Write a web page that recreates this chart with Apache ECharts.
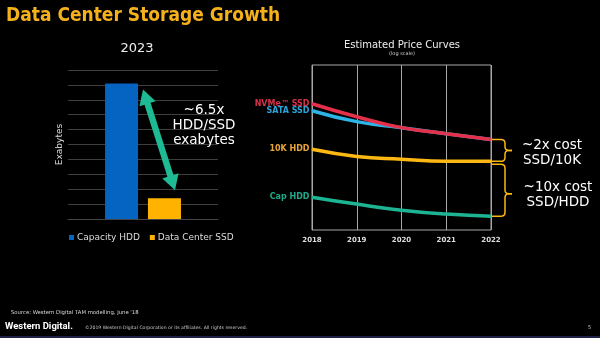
<!DOCTYPE html>
<html>
<head>
<meta charset="utf-8">
<script src="https://cdn.jsdelivr.net/npm/echarts@6/dist/echarts.min.js"></script>
<style>
  html, body { margin: 0; padding: 0; background: #000; }
  #main { width: 600px; height: 338px; }
</style>
</head>
<body>
<div id="main"></div>
<script>
// Exabytes shipped, 2023
const barYear = ['2023'];
const capacityHdd = [9.1];
const dataCenterSsd = [1.4];

// Estimated price curves ($/GB, log scale)
const years = ['2018', '2019', '2020', '2021', '2022'];
const nvmeSsd = [0.339, 0.236, 0.174, 0.147, 0.125];
const sataSsd = [0.279, 0.206, 0.174, 0.147, 0.125];
const hdd10k = [0.095, 0.078, 0.072, 0.068, 0.068];
const capHdd = [0.025, 0.0206, 0.0174, 0.0156, 0.0147];

const FONT = 'DejaVu Sans';
const chart = echarts.init(document.getElementById('main'), null, { renderer: 'canvas' });

function startLabel(p) { return p.dataIndex === 0 ? p.seriesName : ''; }

function priceSeries(name, data, color, labelColor) {
  return {
    type: 'line', name: name, xAxisIndex: 1, yAxisIndex: 1, data: data,
    smooth: true, symbol: 'circle', symbolSize: 1,
    itemStyle: { color: color }, lineStyle: { color: color, width: 3.5 },
    label: {
      show: true, position: 'left', distance: 2, formatter: startLabel,
      color: labelColor, fontSize: 8, fontWeight: 'bold', fontFamily: FONT
    },
    emphasis: { disabled: true }
  };
}

chart.setOption({
  backgroundColor: '#000',
  animation: false,
  legend: {
    data: ['Capacity HDD', 'Data Center SSD'],
    left: 64, top: 228, icon: 'rect', itemWidth: 5, itemHeight: 5, itemGap: 10,
    textStyle: { color: '#ddd', fontSize: 9, fontFamily: FONT, padding: [0, 0, 0, -2] }
  },
  grid: [
    { left: 68, right: 382, top: 70, bottom: 119 },
    { left: 312, right: 109, top: 65, bottom: 108, show: true, borderColor: '#a8a8a8', borderWidth: 1 }
  ],
  xAxis: [
    {
      gridIndex: 0, type: 'category', data: barYear,
      axisLine: { lineStyle: { color: '#444' } }, axisTick: { show: false }, axisLabel: { show: false }
    },
    {
      gridIndex: 1, type: 'category', data: years, boundaryGap: false,
      axisLine: { show: false }, axisTick: { show: false },
      splitLine: { show: true, lineStyle: { color: '#a8a8a8', width: 1 } },
      axisLabel: { color: '#ddd', fontSize: 7, fontWeight: 'bold', fontFamily: FONT, margin: 7 }
    }
  ],
  yAxis: [
    {
      gridIndex: 0, type: 'value', min: 0, max: 10, interval: 1,
      axisLine: { show: false }, axisTick: { show: false }, axisLabel: { show: false },
      splitLine: { lineStyle: { color: '#3e3e3e' } },
      name: 'Exabytes', nameLocation: 'middle', nameGap: 4,
      nameTextStyle: { color: '#ddd', fontSize: 9, fontFamily: FONT }
    },
    {
      gridIndex: 1, type: 'log', logBase: 10, min: 0.01, max: 1,
      axisLine: { show: false }, axisTick: { show: false }, axisLabel: { show: false },
      splitLine: { show: false }
    }
  ],
  series: [
    {
      type: 'bar', name: 'Capacity HDD', xAxisIndex: 0, yAxisIndex: 0, data: capacityHdd,
      barWidth: 33, barGap: '30%', itemStyle: { color: '#0563C1' }
    },
    {
      type: 'bar', name: 'Data Center SSD', xAxisIndex: 0, yAxisIndex: 0, data: dataCenterSsd,
      barWidth: 33, itemStyle: { color: '#FFB300' }
    },
    priceSeries('SATA SSD', sataSsd, '#2DB4E6', '#2BA3D6'),
    priceSeries('NVMe™ SSD', nvmeSsd, '#E5304C', '#D8324A'),
    priceSeries('10K HDD', hdd10k, '#FDB813', '#E6A43A'),
    priceSeries('Cap HDD', capHdd, '#1DB493', '#1FA98A')
  ]
});

// Double-headed arrow between two points, as a polygon
function doubleArrow(a, b, headLen, headHalf, shaftHalf) {
  const dx = b[0] - a[0], dy = b[1] - a[1];
  const len = Math.hypot(dx, dy);
  const d = [dx / len, dy / len], n = [-d[1], d[0]];
  const pt = (base, along, side) => [base[0] + d[0] * along + n[0] * side, base[1] + d[1] * along + n[1] * side];
  return [
    a, pt(a, headLen, headHalf), pt(a, headLen, shaftHalf),
    pt(b, -headLen, shaftHalf), pt(b, -headLen, headHalf), b,
    pt(b, -headLen, -headHalf), pt(b, -headLen, -shaftHalf),
    pt(a, headLen, -shaftHalf), pt(a, headLen, -headHalf)
  ];
}

// Quadratic curve sampled into points
function quad(p0, c, p1, steps) {
  const out = [];
  for (let i = 1; i <= steps; i++) {
    const t = i / steps, u = 1 - t;
    out.push([u * u * p0[0] + 2 * u * t * c[0] + t * t * p1[0], u * u * p0[1] + 2 * u * t * c[1] + t * t * p1[1]]);
  }
  return out;
}

// Half of a curly bracket: from a line end at yEnd, along the spine to the tip at yMid
function braceHalf(xStart, xb, yEnd, yMid, tipLen) {
  const r = 4, s = yMid > yEnd ? 1 : -1;
  let pts = [[xStart, yEnd], [xb - r, yEnd]];
  pts = pts.concat(quad([xb - r, yEnd], [xb, yEnd], [xb, yEnd + s * r], 5));
  pts.push([xb, yMid - s * r]);
  pts = pts.concat(quad([xb, yMid - s * r], [xb, yMid], [xb + r, yMid], 5));
  pts.push([xb + tipLen, yMid]);
  return pts;
}

function bracePieces(xStart, xb, yTop, yBot, yMid) {
  const style = { fill: null, stroke: '#FDB813', lineWidth: 1.5 };
  return [
    { type: 'polyline', silent: true, shape: { points: braceHalf(xStart, xb, yTop, yMid, 7) }, style: style },
    { type: 'polyline', silent: true, shape: { points: braceHalf(xStart, xb, yBot, yMid, 7) }, style: style }
  ];
}

const hddTop = chart.convertToPixel({ gridIndex: 0 }, [barYear[0], capacityHdd[0]]);
const ssdTop = chart.convertToPixel({ gridIndex: 0 }, [barYear[0], dataCenterSsd[0]]);
const last = years.length - 1;
const ssdEnd = chart.convertToPixel({ gridIndex: 1 }, [years[last], nvmeSsd[last]]);
const k10End = chart.convertToPixel({ gridIndex: 1 }, [years[last], hdd10k[last]]);
const capEnd = chart.convertToPixel({ gridIndex: 1 }, [years[last], capHdd[last]]);

const arrowA = [hddTop[0], hddTop[1] + 6];
const arrowB = [ssdTop[0] + 32, ssdTop[1] - 8];
const xb = ssdEnd[0] + 14;

function txt(x, y, text, font, fill, align) {
  return { type: 'text', x: x, y: y, silent: true,
    style: { text: text, font: font, fill: fill, align: align || 'left', verticalAlign: 'middle' } };
}

const graphics = [
  txt(6, 16, 'Data Center Storage Growth', 'bold 19px "DejaVu Sans Condensed"', '#F5B11C'),
  txt(137, 49, '2023', '13px ' + FONT, '#eee', 'center'),
  txt(402, 45, 'Estimated Price Curves', '10px ' + FONT, '#eee', 'center'),
  txt(402, 54, '(log scale)', '5px ' + FONT, '#ccc', 'center'),
  {
    type: 'polygon', silent: true,
    shape: { points: doubleArrow(arrowA, arrowB, 15, 8.5, 3.2) },
    style: { fill: '#1DBA94' }
  },
  txt(204, 110, '~6.5x', '13.5px ' + FONT, '#fff', 'center'),
  txt(204, 125, 'HDD/SSD', '13.5px ' + FONT, '#fff', 'center'),
  txt(204, 140, 'exabytes', '13.5px ' + FONT, '#fff', 'center')
]
  .concat(bracePieces(ssdEnd[0], xb, ssdEnd[1], k10End[1], (ssdEnd[1] + k10End[1]) / 2))
  .concat(bracePieces(k10End[0], xb, k10End[1] + 3, capEnd[1], (k10End[1] + capEnd[1]) / 2 + 5))
  .concat([
    txt(552, 145, '~2x cost', '13.5px ' + FONT, '#fff', 'center'),
    txt(552, 160, 'SSD/10K', '13.5px ' + FONT, '#fff', 'center'),
    txt(558, 187, '~10x cost', '13.5px ' + FONT, '#fff', 'center'),
    txt(558, 202, 'SSD/HDD', '13.5px ' + FONT, '#fff', 'center'),
    txt(11, 313, "Source: Western Digital TAM modelling, June '18", '5.3px ' + FONT, '#ddd'),
    txt(5, 327, 'Western Digital.', 'bold 9.5px Roboto', '#fff'),
    txt(85, 328, '©2019 Western Digital Corporation or its affiliates. All rights reserved.', '4.6px ' + FONT, '#ccc'),
    txt(588, 328, '5', '5px ' + FONT, '#ccc'),
    { type: 'rect', silent: true, shape: { x: 0, y: 336, width: 600, height: 2 }, style: { fill: '#1E2048' } }
  ]);

chart.setOption({ graphic: graphics });
</script>
</body>
</html>
